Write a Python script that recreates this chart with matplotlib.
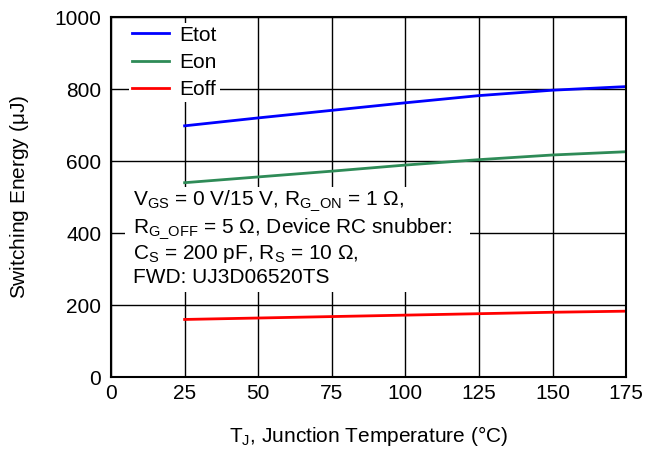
import matplotlib
matplotlib.use("Agg")
import matplotlib.pyplot as plt
from matplotlib.patches import Rectangle

plt.rcParams['font.family'] = ['Liberation Sans', 'DejaVu Sans']
plt.rcParams['mathtext.fontset'] = 'custom'
plt.rcParams['mathtext.rm'] = 'Liberation Sans'
plt.rcParams['mathtext.it'] = 'Liberation Sans'

temps = [25, 50, 75, 100, 125, 150, 175]
etot = [698, 720, 741, 762, 782, 797, 807]
eon = [540, 556, 572, 589, 604, 617, 626]
eoff = [160, 164, 168, 172, 176, 180, 183]
xticks = [0, 25, 50, 75, 100, 125, 150, 175]
yticks = [0, 200, 400, 600, 800, 1000]

FS = 15
fig = plt.figure(figsize=(6.57, 4.51), dpi=100)
ax = fig.add_axes([0.169, 0.164, 0.784, 0.798])

ax.plot(temps, etot, color='#0000ff', lw=2, label='Etot')
ax.plot(temps, eon, color='#2e8b57', lw=2, label='Eon')
ax.plot(temps, eoff, color='#ff0000', lw=2, label='Eoff')

ax.set_xlim(0, 175)
ax.set_ylim(0, 1000)
ax.set_xticks(xticks)
ax.set_yticks(yticks)
ax.grid(True, color='black', lw=1)
ax.set_axisbelow(True)
ax.tick_params(labelsize=FS, length=0)
ax.tick_params(axis='x', pad=5)
ax.tick_params(axis='y', pad=7)
for s in ax.spines.values():
    s.set_linewidth(1.5)
    s.set_color('black')

ax.set_xlabel(r'T$_{\mathrm{J}}$, Junction Temperature ($\degree$C)', fontsize=FS, labelpad=15)
ax.set_ylabel(r'Switching Energy ($\mu$J)', fontsize=FS, labelpad=17)

leg = ax.legend(loc='upper left', fontsize=FS, frameon=True, edgecolor='none',
                facecolor='white', framealpha=1, fancybox=False,
                handlelength=1.75, handletextpad=0.5, labelspacing=0.4,
                borderpad=0.15, borderaxespad=0, bbox_to_anchor=(0.035, 0.985))

# annotation background box
ax.add_patch(Rectangle((0.027, 0.236), 0.67, 0.292, transform=ax.transAxes,
                       facecolor='white', edgecolor='none', zorder=4))
lines = [r'V$_{\mathrm{GS}}$ = 0 V/15 V, R$_{\mathrm{G\_ON}}$ = 1 $\Omega$,',
         r'R$_{\mathrm{G\_OFF}}$ = 5 $\Omega$, Device RC snubber:',
         r'C$_{\mathrm{S}}$ = 200 pF, R$_{\mathrm{S}}$ = 10 $\Omega$,',
         r'FWD: UJ3D06520TS']
ys = [0.478, 0.400, 0.328, 0.261]
for t, y in zip(lines, ys):
    ax.text(0.043, y, t, fontsize=FS, va='baseline', ha='left',
            transform=ax.transAxes, zorder=5)

fig.savefig('out.png', dpi=100)
